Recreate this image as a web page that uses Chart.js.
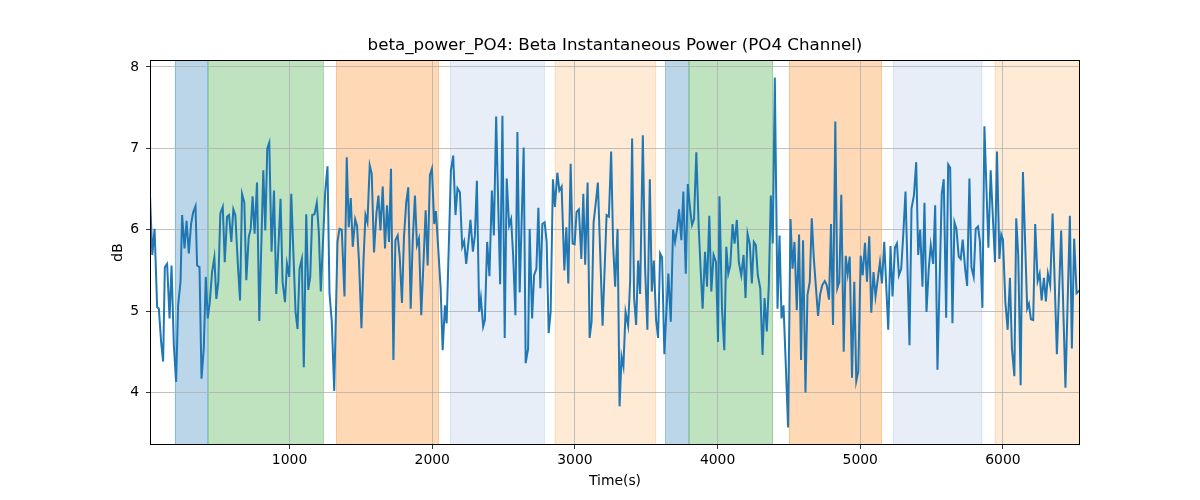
<!DOCTYPE html>
<html>
<head>
<meta charset="utf-8">
<script src="https://cdn.jsdelivr.net/npm/chart.js@4.4.1/dist/chart.umd.min.js"></script>
<style>
  html, body { margin: 0; padding: 0; background: #fff; }
  #wrap { width: 1200px; height: 500px; }
</style>
</head>
<body>
<div id="wrap"><canvas id="c" width="1200" height="500"></canvas></div>
<script>
// ---- data ----
const titleText = "beta_power_PO4: Beta Instantaneous Power (PO4 Channel)";
const xLabel = "Time(s)";
const yLabel = "dB";
const xTicks = [1000, 2000, 3000, 4000, 5000, 6000];
const yTicks = [4, 5, 6, 7, 8];

const times = [
  22,38,54,72,84,100,114,126,142,159,173,189,205,219,236,247,264,278,294,310,324,341,352,369,383,399,413,427,441,457,473,487,501,515,532,546,562,576,592,606,620,637,653,667,683,
  697,714,728,741,755,772,788,816,830,844,858,874,891,907,937,951,968,982,998,1012,1042,1056,1070,1086,1100,1117,1131,1145,1159,1175,1191,1205,1219,1250,1266,1280,1296,1313,
  1336,1350,1366,1385,1401,1415,1429,1443,1460,1473,1487,1504,1518,1532,1546,1562,1576,1592,1609,1623,1637,1653,1669,1683,1697,1711,1728,1742,1758,1772,1788,1802,1818,1832,1849,1863,1879,1893,1907,1923,1937,1954,1968,1984,1998,2014,
  2026,2042,2059,2073,2089,2101,2131,2147,2163,2177,2194,2210,2224,2238,2254,2268,2285,2299,2313,2329,2341,2357,2369,2385,2401,2418,2432,2448,2476,2492,2508,2522,2539,2553,2567,2583,2597,2613,2641,2655,2672,2683,
  2700,2714,2730,2744,2758,2772,2788,2802,2816,2830,2846,2860,2877,2891,2907,2926,2940,2954,2970,2984,2998,3012,3028,3045,3059,3072,3089,3103,3117,3131,3147,3161,3194,3222,3238,3254,3268,3282,3299,3313,3327,3340,
  3355,3373,3387,3401,3415,3429,3443,3457,3476,3492,3508,3525,3539,3553,3569,3583,3597,3611,3627,3641,3655,3672,3688,3702,3716,3730,3746,3760,3777,3791,3807,3821,3835,3851,3867,3881,3895,3912,3926,3942,3956,3972,3989,4003,4013,
  4031,4047,4061,4075,4089,4105,4119,4135,4149,4166,4182,4196,4210,4226,4240,4254,4268,4282,4299,4315,4329,4345,4359,4373,4387,4401,4420,4434,4448,4462,4478,4494,4511,4525,4539,4555,4571,4585,4599,4616,4630,4646,4660,
  4674,4688,4704,4718,4734,4751,4765,4781,4795,4809,4825,4839,4853,4867,4884,4898,4912,4926,4942,4958,4972,4986,5003,5017,5033,5047,5063,5077,5093,5107,5124,5138,5152,5168,5196,5212,5226,5243,5257,5271,5287,5301,5317,
  5345,5359,5376,5392,5406,5420,5436,5450,5464,5480,5494,5511,5525,5541,5571,5585,5602,5616,5630,5646,5660,5674,5690,5704,5718,5735,5749,5765,5779,5795,5809,5825,5839,5856,5870,5898,5914,5944,5958,5975,5988,
  6000,6017,6033,6049,6063,6080,6093,6107,6124,6140,6170,6182,6196,6212,6226,6243,6257,6271,6287,6301,6315,6331,6348,6378,6408,6438,6469,6483,6499,6516,6540
];
const power = [
  6.42,5.69,6.01,5.05,5.03,4.62,4.38,5.54,5.58,4.91,5.56,4.58,4.13,5.07,5.36,6.18,5.77,6.11,5.71,6.07,6.21,6.29,5.56,5.54,4.17,4.54,5.42,4.91,5.11,5.48,5.66,5.15,5.36,6.20,6.28,5.60,6.16,6.18,5.85,6.25,6.18,5.60,5.13,6.44,6.34,
  5.38,5.91,6.01,6.41,5.95,6.58,4.88,6.73,5.99,7.00,7.07,5.73,6.48,5.21,6.38,5.36,5.11,5.58,5.42,6.44,4.99,4.78,5.52,5.64,4.31,6.19,5.26,5.42,6.18,6.19,6.33,5.97,5.24,6.47,6.78,5.22,4.87,4.02,
  5.85,6.01,6.00,5.18,6.89,6.03,6.39,5.79,6.13,6.05,5.60,4.79,5.60,6.18,6.09,6.79,6.69,5.72,6.20,6.42,5.99,6.53,5.77,6.30,5.85,6.75,4.40,5.87,5.93,5.67,5.10,5.91,6.34,6.52,5.03,5.85,6.42,5.81,5.89,4.95,5.52,6.24,5.56,6.67,6.75,6.07,
  6.23,5.77,5.28,4.52,5.07,4.85,6.73,6.91,6.18,6.51,6.46,5.79,5.86,5.58,5.85,6.12,5.73,5.93,6.60,4.99,5.16,4.81,4.89,5.85,5.43,6.48,5.93,7.39,5.33,7.40,4.67,6.63,6.05,6.13,5.69,4.95,7.20,5.23,7.01,4.36,4.54,6.01,
  4.91,5.44,5.52,6.27,5.28,6.07,6.09,5.85,4.73,4.99,6.62,6.28,6.70,6.48,6.53,5.50,6.03,5.34,6.81,5.83,5.82,6.22,6.25,5.64,6.44,5.57,6.58,4.67,4.87,6.09,6.34,6.58,4.82,6.18,6.16,6.96,5.81,5.30,6.01,3.83,4.44,4.32,
  4.99,4.82,5.36,7.12,5.16,4.83,5.62,5.21,7.16,5.52,4.77,6.62,5.24,5.62,4.89,4.67,5.71,5.66,4.47,4.99,5.46,4.87,6.00,5.85,6.01,6.25,5.87,6.47,5.46,6.56,6.26,6.06,6.13,6.95,6.06,5.52,5.03,5.73,5.30,6.17,5.24,5.69,5.60,4.62,6.41,
  5.03,4.52,5.79,5.46,5.56,6.07,5.83,6.12,5.60,5.44,5.69,5.16,5.95,5.82,5.34,5.85,5.81,5.44,5.28,4.46,5.16,4.75,5.32,6.42,5.83,7.87,5.03,5.93,4.91,5.07,4.34,3.57,6.13,5.52,5.85,5.01,5.94,4.40,5.87,4.00,5.20,5.36,6.14,
  5.66,5.32,4.94,5.20,5.32,5.37,5.32,5.14,6.07,4.83,7.33,5.28,5.36,6.43,4.50,5.68,5.46,5.67,4.18,5.36,4.14,4.26,5.68,5.44,5.84,5.36,5.92,4.98,5.48,5.18,5.41,5.60,5.34,5.85,4.77,5.80,5.18,5.78,5.83,5.44,5.52,5.93,6.47,
  4.58,6.26,6.42,6.83,5.69,6.00,5.30,6.33,4.99,5.52,5.81,5.58,6.30,4.28,6.44,6.62,4.92,6.80,6.76,4.85,6.09,6.01,5.67,5.64,5.88,5.52,5.31,6.63,5.54,5.42,6.01,6.04,5.85,5.04,7.27,5.78,6.73,5.60,6.96,5.64,5.94,
  5.88,5.11,4.77,5.41,4.54,4.20,6.14,5.69,4.09,6.71,5.03,5.09,4.90,4.89,6.07,5.37,5.46,5.13,5.41,5.12,5.46,5.32,6.20,4.47,5.99,4.06,6.17,4.54,5.89,5.22,5.26
];

// shaded segments (data x)
const spanStart = [196, 429, 1327, 2124, 2858, 3634, 3797, 4501, 5229, 5942];
const spanEnd   = [429, 1238, 2045, 2788, 3569, 3797, 4387, 5150, 5856, 6540];
const spanKind  = ["blue", "green", "orange", "lightblue", "lightorange", "blue", "green", "orange", "lightblue", "lightorange"];

// ---- styles ----
const kindColor = {
  blue: "rgba(31,119,180,0.3)",
  green: "rgba(44,160,44,0.3)",
  orange: "rgba(255,127,14,0.3)",
  lightblue: "rgba(174,199,232,0.3)",
  lightorange: "rgba(255,187,120,0.3)"
};
const FONT = "'DejaVu Sans', 'Liberation Sans', sans-serif";

const points = times.map((t, i) => ({ x: t, y: power[i] }));

// spans drawn before the scales so the grid sits on top (as in matplotlib)
const spanPlugin = {
  id: 'spans',
  beforeDraw(chart) {
    const { ctx, chartArea, scales } = chart;
    ctx.save();
    ctx.beginPath();
    ctx.rect(chartArea.left, chartArea.top, chartArea.right - chartArea.left, chartArea.bottom - chartArea.top);
    ctx.clip();
    for (let i = 0; i < spanStart.length; i++) {
      const x0 = scales.x.getPixelForValue(spanStart[i]);
      const x1 = scales.x.getPixelForValue(spanEnd[i]);
      ctx.fillStyle = kindColor[spanKind[i]];
      ctx.fillRect(x0, chartArea.top, x1 - x0, chartArea.bottom - chartArea.top);
      ctx.strokeStyle = kindColor[spanKind[i]];
      ctx.lineWidth = 1;
      ctx.beginPath();
      ctx.moveTo(Math.round(x0) + 0.5, chartArea.top);
      ctx.lineTo(Math.round(x0) + 0.5, chartArea.bottom);
      ctx.moveTo(Math.round(x1) - 0.5, chartArea.top);
      ctx.lineTo(Math.round(x1) - 0.5, chartArea.bottom);
      ctx.stroke();
    }
    ctx.restore();
  }
};

const framePlugin = {
  id: 'frame',
  afterDraw(chart) {
    const { ctx, chartArea } = chart;
    ctx.save();
    ctx.strokeStyle = '#000';
    ctx.lineWidth = 1;
    ctx.strokeRect(Math.round(chartArea.left) + 0.5, Math.round(chartArea.top) + 0.5,
      Math.round(chartArea.right - chartArea.left) - 1, Math.round(chartArea.bottom - chartArea.top) - 1);
    ctx.fillStyle = '#000';
    ctx.font = "16.7px " + FONT;
    ctx.textAlign = 'center';
    ctx.textBaseline = 'middle';
    ctx.fillText(titleText, (chartArea.left + chartArea.right) / 2, 46);
    ctx.restore();
  }
};

new Chart(document.getElementById('c'), {
  type: 'line',
  data: {
    datasets: [{
      data: points,
      borderColor: '#1f77b4',
      borderWidth: 2,
      pointRadius: 0,
      tension: 0,
      fill: false
    }]
  },
  options: {
    responsive: false,
    animation: false,
    devicePixelRatio: 1,
    layout: { padding: { left: 0, right: 120, top: 60, bottom: 0 } },
    plugins: { legend: { display: false }, tooltip: { enabled: false }, title: { display: false } },
    scales: {
      x: {
        type: 'linear',
        min: 22,
        max: 6540,
        afterFit(scale) { scale.height = 55; },
        afterBuildTicks(scale) { scale.ticks = xTicks.map(v => ({ value: v })); },
        grid: { color: '#b0b0b0', lineWidth: 0.8, tickColor: '#000', tickLength: 4, drawTicks: true },
        border: { display: false },
        ticks: { color: '#000', font: { family: FONT, size: 13.9 }, padding: 3, maxRotation: 0, autoSkip: false,
                 callback: (v) => String(v) },
        title: { display: true, text: xLabel, color: '#000', font: { family: FONT, size: 13.9 }, padding: { top: 0, bottom: 10.5 } }
      },
      y: {
        type: 'linear',
        min: 3.355,
        max: 8.085,
        afterFit(scale) { scale.width = 150; },
        afterBuildTicks(scale) { scale.ticks = yTicks.map(v => ({ value: v })); },
        grid: { color: '#b0b0b0', lineWidth: 0.8, tickColor: '#000', tickLength: 4, drawTicks: true },
        border: { display: false },
        ticks: { color: '#000', font: { family: FONT, size: 13.9 }, padding: 7, autoSkip: false,
                 callback: (v) => String(v) },
        title: { display: true, text: yLabel, color: '#000', font: { family: FONT, size: 13.9 }, padding: { top: 110.5, bottom: 0 } }
      }
    }
  },
  plugins: [spanPlugin, framePlugin]
});
</script>
</body>
</html>
